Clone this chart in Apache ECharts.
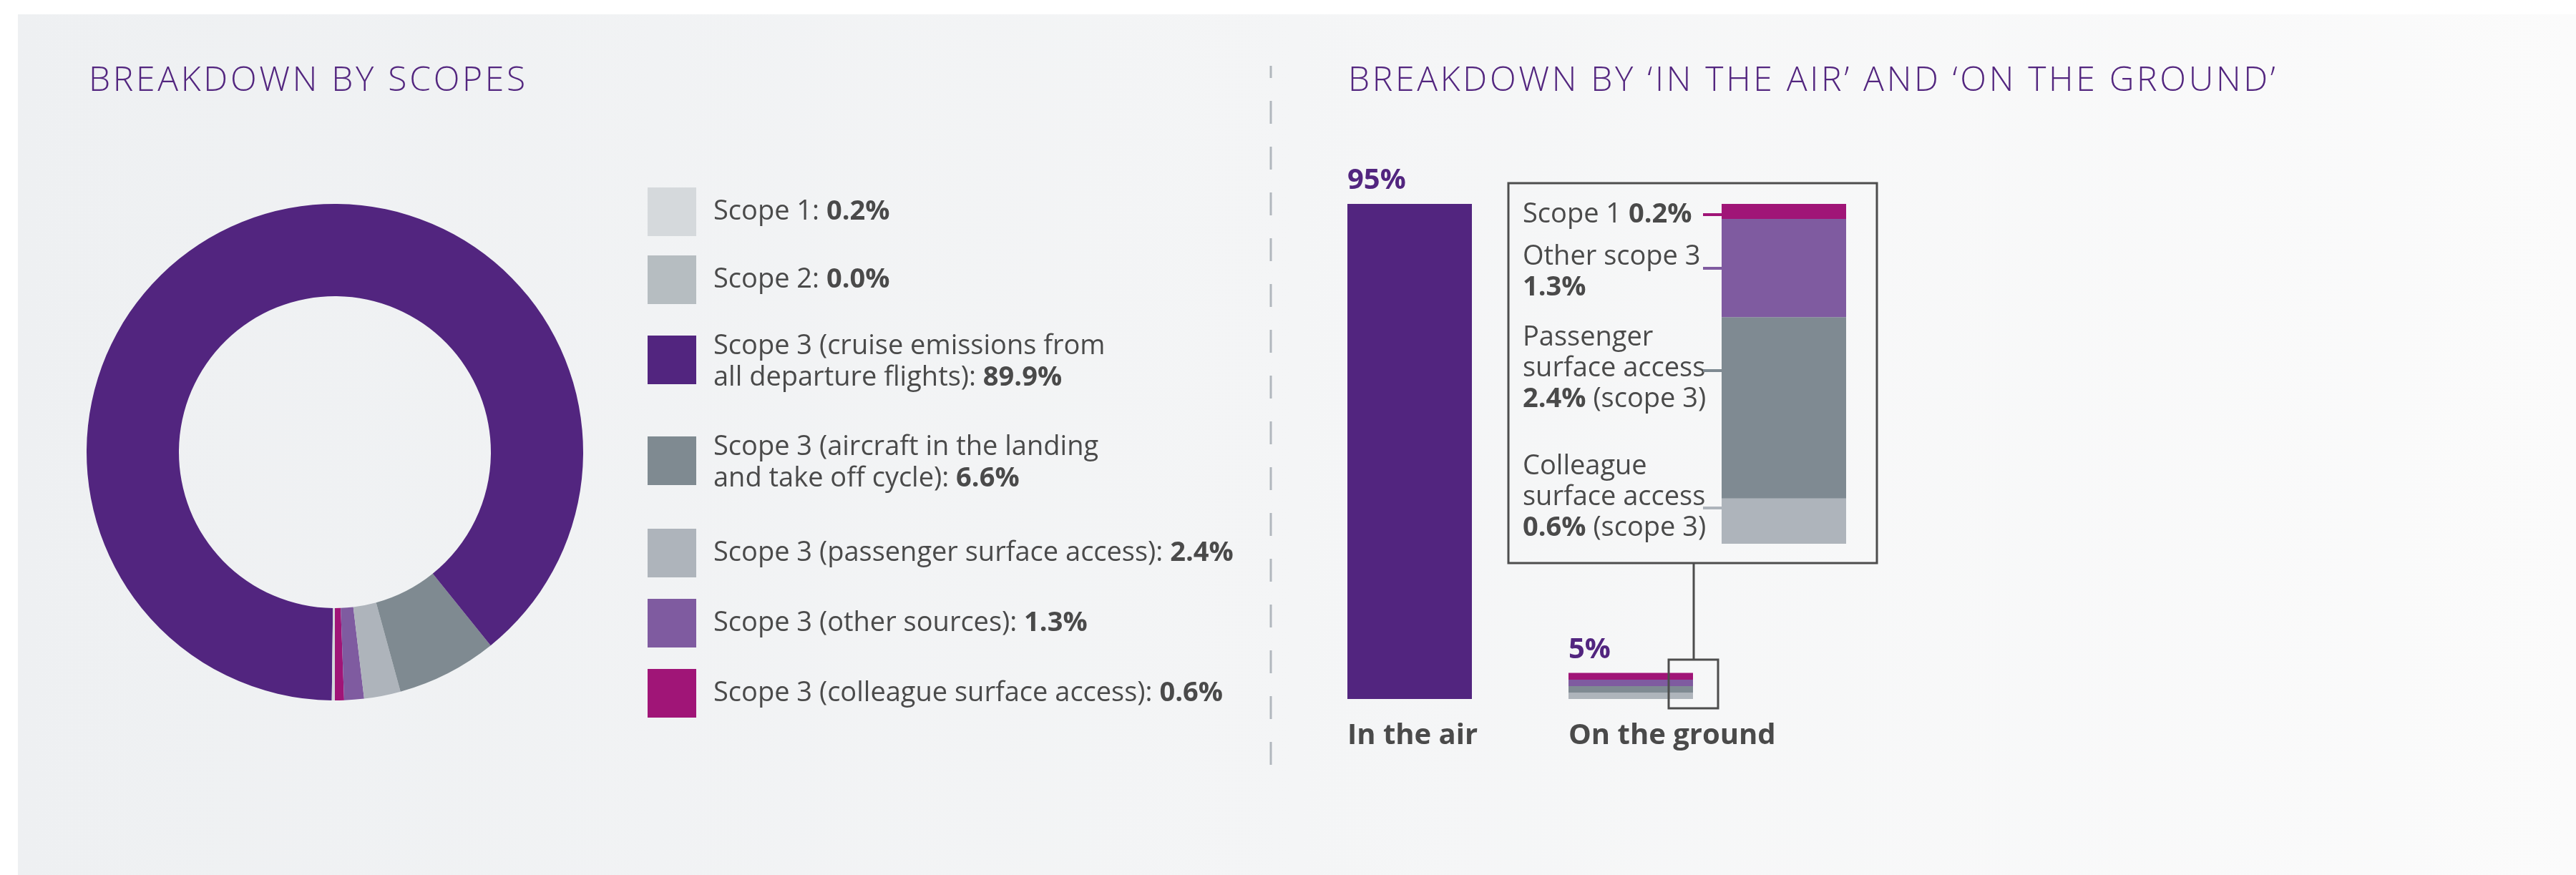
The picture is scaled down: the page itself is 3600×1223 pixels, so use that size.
<!DOCTYPE html>
<html>
<head>
<meta charset="utf-8">
<title>Emissions breakdown</title>
<script src="https://cdn.jsdelivr.net/npm/echarts@6/dist/echarts.min.js"></script>
<style>
  html, body { margin: 0; padding: 0; background: #ffffff; }
  #chart { width: 3600px; height: 1223px; }
</style>
</head>
<body>
<div id="chart"></div>
<script>
// ---- Breakdown by scopes (donut + legend) ----
const scopeNames = [
  'Scope 1',
  'Scope 2',
  'Scope 3 (cruise emissions from all departure flights)',
  'Scope 3 (aircraft in the landing and take off cycle)',
  'Scope 3 (passenger surface access)',
  'Scope 3 (other sources)',
  'Scope 3 (colleague surface access)'
];
const scopeLegendLines = [
  ['Scope 1:'],
  ['Scope 2:'],
  ['Scope 3 (cruise emissions from', 'all departure flights):'],
  ['Scope 3 (aircraft in the landing', 'and take off cycle):'],
  ['Scope 3 (passenger surface access):'],
  ['Scope 3 (other sources):'],
  ['Scope 3 (colleague surface access):']
];
const scopeShares = [0.2, 0.0, 89.9, 6.6, 2.4, 1.3, 0.6];
const scopeColors = ['#d5d9dc', '#b6bdc1', '#52257f', '#7f8a91', '#aeb4bb', '#7f5ba0', '#a01577'];
// order of the slices around the ring, starting at six o'clock
const ringOrder = [6, 5, 4, 3, 2, 1, 0];

// ---- Breakdown by 'in the air' and 'on the ground' ----
const locationNames = ['In the air', 'On the ground'];
const locationShares = [95, 5];

// ground emissions detail (top to bottom of the zoomed bar)
const groundNames = ['Scope 1', 'Other scope 3', 'Passenger surface access', 'Colleague surface access'];
const groundShares = [0.2, 1.3, 2.4, 0.6];
const groundColors = ['#a01577', '#7f5ba0', '#7f8a92', '#aeb4bb'];

const FONT = "'Open Sans', 'Noto Sans', sans-serif";
const INK = '#4a4a4a';
const PURPLE = '#52257f';
const HEADING = '#53267f';

// section headings are tracked out: widen letter spacing for text drawn in the heading colour
(function () {
  const proto = CanvasRenderingContext2D.prototype;
  if (!('letterSpacing' in proto)) return;
  const fillText = proto.fillText;
  proto.fillText = function (text, x, y, maxWidth) {
    if (this.fillStyle === HEADING) {
      const prev = this.letterSpacing;
      this.letterSpacing = '3.7px';
      const r = maxWidth === undefined ? fillText.call(this, text, x, y) : fillText.call(this, text, x, y, maxWidth);
      this.letterSpacing = prev;
      return r;
    }
    return maxWidth === undefined ? fillText.call(this, text, x, y) : fillText.call(this, text, x, y, maxWidth);
  };
})();

const chart = echarts.init(document.getElementById('chart'), null, { renderer: 'canvas' });

// one legend block per scope so each row can sit at its own height
const legendTops = [262, 357, 465, 606, 739, 837, 935];
const legends = scopeNames.map((name, i) => {
  const twoLine = scopeLegendLines[i].length > 1;
  return {
    data: [name],
    orient: 'vertical',
    left: 905,
    top: legendTops[i],
    padding: 0,
    itemWidth: 68,
    itemHeight: 68,
    icon: 'rect',
    selectedMode: false,
    formatter: () => {
      const lines = scopeLegendLines[i];
      const head = lines.slice(0, -1).map(l => '{n|' + l + '}');
      head.push('{n|' + lines[lines.length - 1] + ' }{v|' + scopeShares[i].toFixed(1) + '%}');
      return head.join('\n');
    },
    textStyle: {
      padding: twoLine ? [6, 0, 0, 19] : [0, 0, 0, 19],
      rich: {
        n: { fontFamily: FONT, fontSize: 38, color: INK, lineHeight: 44 },
        v: { fontFamily: FONT, fontSize: 38, color: INK, fontWeight: 'bold', lineHeight: 44 }
      }
    }
  };
});

// stripes for the small ground bar, one band per ground source
const groundStripes = [];
groundColors.forEach((c, i) => {
  groundStripes.push({ offset: i / groundColors.length, color: c });
  groundStripes.push({ offset: (i + 1) / groundColors.length, color: c });
});

const groundSum = groundShares.reduce((a, b) => a + b, 0);

// labels inside the callout (value text built from the ground data)
const calloutLabels = [
  { y: 279, text: 'Scope 1 {b|' + groundShares[0].toFixed(1) + '%}' },
  { y: 338, text: 'Other scope 3\n{b|' + groundShares[1].toFixed(1) + '%}' },
  { y: 451, text: 'Passenger\nsurface access\n{b|' + groundShares[2].toFixed(1) + '%} (scope 3)' },
  { y: 631, text: 'Colleague\nsurface access\n{b|' + groundShares[3].toFixed(1) + '%} (scope 3)' }
];
const leaderY = [300, 375, 518, 710];

const graphics = [
  {
    type: 'rect', z: -10, silent: true,
    shape: { x: 25, y: 20, width: 3575, height: 1203 },
    style: {
      fill: new echarts.graphic.LinearGradient(0, 0, 1, 0, [
        { offset: 0, color: '#eef0f2' },
        { offset: 0.5, color: '#f4f5f6' },
        { offset: 1, color: '#fbfbfb' }
      ])
    }
  },
  {
    type: 'line', silent: true,
    shape: { x1: 1776, y1: 92, x2: 1776, y2: 1069 },
    style: { stroke: '#b1b7bd', lineWidth: 3, lineDash: [32, 32], lineDashOffset: 15 }
  },
  {
    type: 'rect', silent: true,
    shape: { x: 2108, y: 256, width: 515, height: 531 },
    style: { fill: null, stroke: '#4d4d4d', lineWidth: 3 }
  },
  {
    type: 'line', silent: true,
    shape: { x1: 2367, y1: 787, x2: 2367, y2: 922 },
    style: { stroke: '#4d4d4d', lineWidth: 3 }
  },
  {
    type: 'rect', silent: true, z: 10,
    shape: { x: 2332, y: 922, width: 69, height: 68 },
    style: { fill: null, stroke: '#4d4d4d', lineWidth: 3 }
  }
];
calloutLabels.forEach(l => {
  graphics.push({
    type: 'text', silent: true,
    x: 2128, y: l.y,
    style: {
      text: l.text,
      fill: INK,
      fontFamily: FONT,
      fontSize: 38,
      lineHeight: 43,
      verticalAlign: 'top',
      rich: {
        b: { fontFamily: FONT, fontSize: 38, fontWeight: 'bold', fill: INK, lineHeight: 43 }
      }
    }
  });
});
leaderY.forEach((y, i) => {
  graphics.push({
    type: 'line', silent: true,
    shape: { x1: 2380, y1: y, x2: 2406, y2: y },
    style: { stroke: groundColors[i], lineWidth: 4 }
  });
});

const option = {
  backgroundColor: '#ffffff',
  animation: false,
  title: [
    {
      text: 'BREAKDOWN BY SCOPES', left: 119, top: 84,
      textStyle: { fontFamily: FONT, fontSize: 48, fontWeight: 300, color: HEADING }
    },
    {
      text: 'BREAKDOWN BY \u2018IN THE AIR\u2019 AND \u2018ON THE GROUND\u2019', left: 1879, top: 84,
      textStyle: { fontFamily: FONT, fontSize: 48, fontWeight: 300, color: HEADING }
    }
  ],
  legend: legends,
  graphic: graphics,
  grid: [
    { left: 1815.5, width: 618, top: 285, height: 692 },
    { left: 2406, width: 174, top: 285, height: 475 }
  ],
  xAxis: [
    { gridIndex: 0, type: 'category', data: locationNames, show: false },
    { gridIndex: 1, type: 'category', data: ['On the ground'], show: false }
  ],
  yAxis: [
    { gridIndex: 0, type: 'value', min: 0, max: 95, show: false },
    { gridIndex: 1, type: 'value', min: 0, max: groundSum, show: false }
  ],
  series: [
    {
      type: 'pie',
      center: [468, 632],
      radius: [218, 347],
      startAngle: 270,
      clockwise: false,
      silent: true,
      label: { show: false },
      labelLine: { show: false },
      emphasis: { disabled: true },
      data: ringOrder.map(i => ({
        name: scopeNames[i],
        value: scopeShares[i],
        itemStyle: { color: scopeColors[i] }
      }))
    },
    {
      name: 'share',
      type: 'bar',
      xAxisIndex: 0, yAxisIndex: 0,
      barWidth: 174,
      barGap: '-100%',
      silent: true,
      data: locationShares.map((v, i) => ({
        value: v,
        itemStyle: {
          color: i === 0 ? PURPLE
            : new echarts.graphic.LinearGradient(0, 0, 0, 1, groundStripes)
        }
      })),
      label: {
        show: true,
        position: [0, 0],
        align: 'left',
        verticalAlign: 'bottom',
        offset: [0, -12],
        formatter: p => p.value + '%',
        fontFamily: FONT, fontSize: 40, fontWeight: 'bold', color: PURPLE
      }
    },
    {
      name: 'location',
      type: 'bar',
      xAxisIndex: 0, yAxisIndex: 0,
      barWidth: 174,
      barGap: '-100%',
      silent: true,
      itemStyle: { color: 'rgba(0,0,0,0)' },
      data: locationShares,
      label: {
        show: true,
        position: ['0%', '100%'],
        align: 'left',
        verticalAlign: 'top',
        offset: [0, 32],
        formatter: p => locationNames[p.dataIndex],
        fontFamily: FONT, fontSize: 40, fontWeight: 'bold', color: INK
      }
    }
  ].concat(
    // zoomed ground bar: stacked from the bottom up
    groundShares.map((v, i) => i).reverse().map(i => ({
      name: 'ground: ' + groundNames[i],
      type: 'bar',
      xAxisIndex: 1, yAxisIndex: 1,
      stack: 'ground',
      barWidth: 174,
      silent: true,
      itemStyle: { color: groundColors[i] },
      data: [groundShares[i]]
    }))
  )
};

chart.setOption(option);
</script>
</body>
</html>
